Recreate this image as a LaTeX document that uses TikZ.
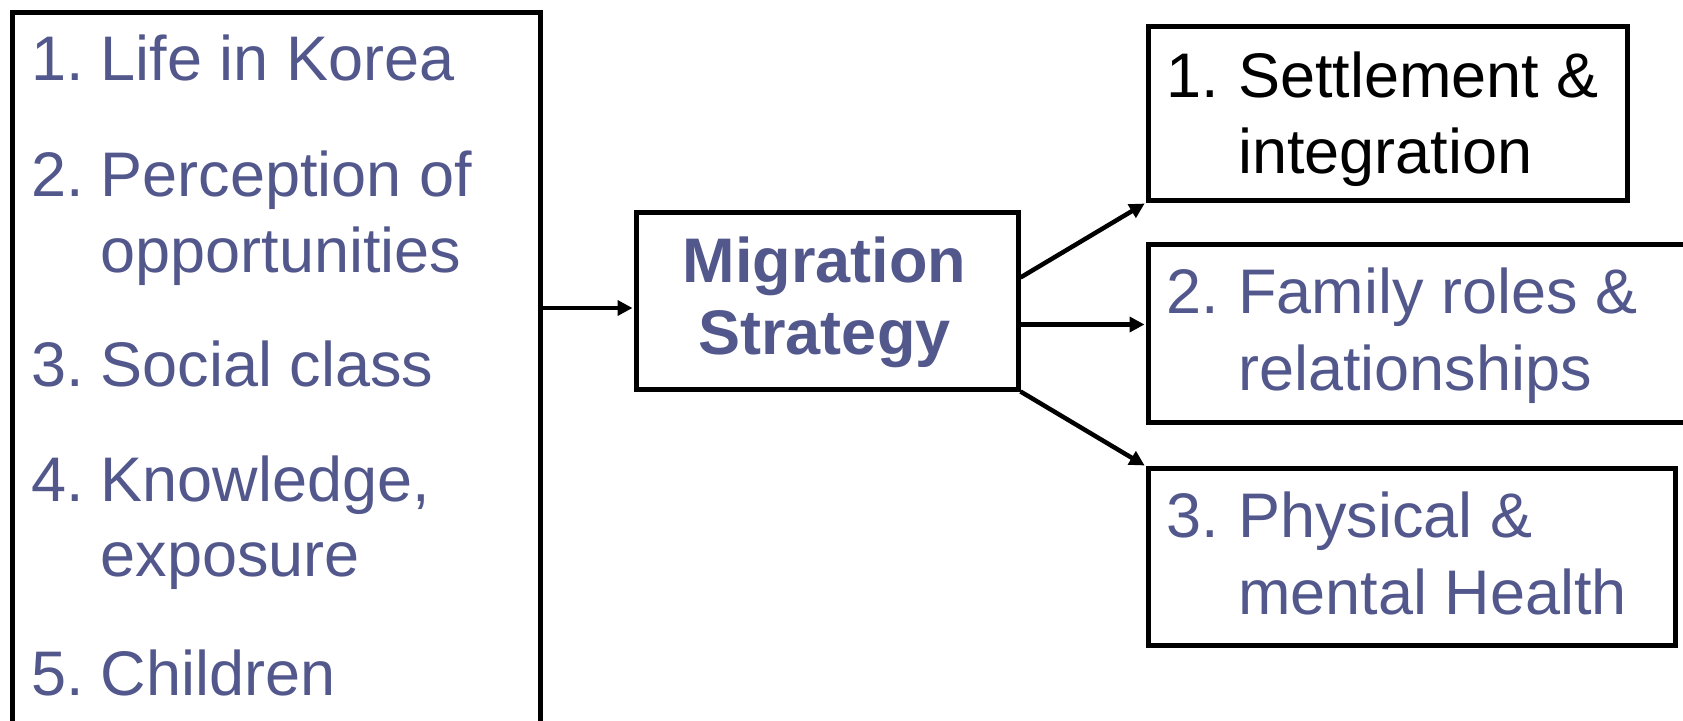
\documentclass[tikz,border=0pt]{standalone}
\usepackage{fontspec}
\setmainfont{Liberation Sans}
\usetikzlibrary{arrows.meta}
\definecolor{txt}{HTML}{52578C}
\begin{document}
\begin{tikzpicture}[x=1pt,y=-1pt,
  box/.style={draw=black,line width=5pt,inner sep=0pt,anchor=north west},
  item/.style={anchor=base west,inner sep=0pt,font=\fontsize{63}{76}\selectfont},
  conn/.style={line width=4.5pt,-{Triangle[length=15pt,width=15pt]},shorten >=1pt}]
\useasboundingbox (0,0) rectangle (1683,720);
\clip (0,0) rectangle (1683,720);
% boxes
\node[box,minimum width=528pt,minimum height=760pt] (inbox) at (9.5,9.5) {};
\node[box,minimum width=382pt,minimum height=177pt] (mig) at (633.5,209.5) {};
\node[box,minimum width=479pt,minimum height=174pt] (r1) at (1145.5,24) {};
\node[box,minimum width=580pt,minimum height=178pt] (r2) at (1145.5,242) {};
\node[box,minimum width=527pt,minimum height=177pt] (r3) at (1145.5,466) {};
% left texts
\begin{scope}[every node/.style={item,text=txt}]
\node (n1) at (31,80) {1.};  \node (t1) at (100.5,80) {Life in Korea};
\node (n2) at (31,196) {2.}; \node (t2) at (100.5,196) {Perception of};
\node (t2b) at (100.5,272) {opportunities};
\node (n3) at (31,386) {3.}; \node (t3) at (100.5,386) {Social class};
\node (n4) at (31,501) {4.}; \node (t4) at (100.5,501) {Knowledge,};
\node (t4b) at (100.5,576) {exposure};
\node (n5) at (31,695) {5.}; \node (t5) at (100.5,695) {Children};
\end{scope}
% middle text
\node[item,anchor=base,text=txt,font=\fontsize{63}{76}\selectfont\bfseries] (m1) at (824.5,282) {Migration};
\node[item,anchor=base,text=txt,font=\fontsize{63}{76}\selectfont\bfseries] (m2) at (824.5,354) {Strategy};
% right texts
\node[item,text=black] (o1n) at (1166,97) {1.};
\node[item,text=black] (o1a) at (1238,97) {Settlement \&};
\node[item,text=black] (o1b) at (1238,173) {integration};
\node[item,text=txt] (o2n) at (1166,313) {2.};
\node[item,text=txt] (o2a) at (1238,313) {Family roles \&};
\node[item,text=txt] (o2b) at (1238,390) {relationships};
\node[item,text=txt] (o3n) at (1166,537) {3.};
\node[item,text=txt] (o3a) at (1238,537) {Physical \&};
\node[item,text=txt] (o3b) at (1238,614) {mental Health};
% connectors
\coordinate (ca) at ([yshift=-7.5pt]mig.west);
\draw[conn] (ca -| inbox.east) -- (ca);
\coordinate (cb) at ([yshift=23pt]mig.east);
\draw[conn] (cb) -- (r1.south west);
\coordinate (cc) at ([yshift=-24pt]mig.east);
\draw[conn] (cc) -- (cc -| r2.west);
\draw[conn] (mig.south east) -- (r3.north west);
\end{tikzpicture}
\end{document}
